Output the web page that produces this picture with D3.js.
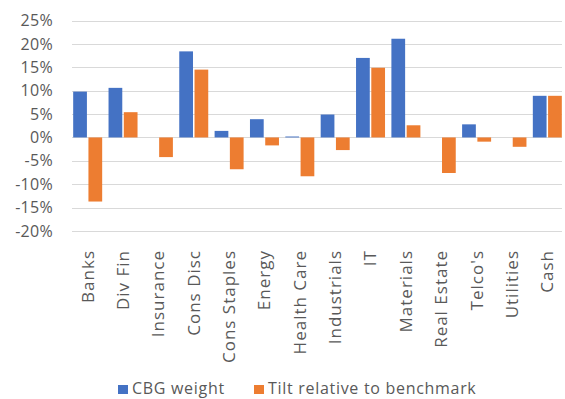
<!DOCTYPE html>
<html>
<head>
<meta charset="utf-8">
<script src="https://cdn.jsdelivr.net/npm/d3@7"></script>
<style>
  html, body { margin: 0; padding: 0; background: #fff; }
  svg { display: block; }
  text { font-family: "Open Sans", sans-serif; fill: #595959; }
</style>
</head>
<body>
<svg id="chart" width="565" height="399"></svg>
<script>
// Sector weights and tilts (in %)
const categories = ["Banks", "Div Fin", "Insurance", "Cons Disc", "Cons Staples", "Energy",
  "Health Care", "Industrials", "IT", "Materials", "Real Estate", "Telco's", "Utilities", "Cash"];
const cbgWeight = [9.8, 10.6, 0, 18.4, 1.4, 3.9, 0.2, 4.9, 17.0, 21.1, 0, 2.8, 0, 8.9];
const tilt = [-13.7, 5.4, -4.2, 14.5, -6.8, -1.7, -8.3, -2.7, 14.9, 2.6, -7.6, -0.9, -2.0, 8.9];
const seriesNames = ["CBG weight", "Tilt relative to benchmark"];
const yTicks = [-20, -15, -10, -5, 0, 5, 10, 15, 20, 25];

const colors = ["#4472C4", "#ED7D31"];
const svg = d3.select("#chart");
const plotLeft = 70, plotRight = 565, plotTop = 20.5, plotBottom = 231;

const x = d3.scaleBand().domain(categories).range([plotLeft, plotRight]).paddingInner(0.18).paddingOuter(0.09);
const y = d3.scaleLinear().domain([-20, 25]).range([plotBottom, plotTop]);
const xs = d3.scaleBand().domain([0, 1]).range([0, x.bandwidth()]).paddingInner(0.1);

// gridlines
svg.append("g").selectAll("line").data(yTicks).join("line")
  .attr("x1", 72).attr("x2", 562)
  .attr("y1", d => Math.round(y(d)) + 0.5).attr("y2", d => Math.round(y(d)) + 0.5)
  .attr("stroke", "#d9d9d9").attr("stroke-width", 1);

// y axis labels
const yAxis = d3.axisLeft(y).tickValues(yTicks).tickSize(0).tickPadding(0)
  .tickFormat(d => d + "%");
const gy = svg.append("g").attr("transform", "translate(53,0)").call(yAxis);
gy.select(".domain").remove();
gy.selectAll("text").attr("font-size", 16).attr("letter-spacing", 0.3)
  .attr("font-family", "Open Sans, sans-serif").attr("fill", "#595959");

// bars
const series = [cbgWeight, tilt];
series.forEach((vals, s) => {
  svg.append("g").selectAll("rect").data(vals).join("rect")
    .attr("x", (d, i) => x(categories[i]) + xs(s))
    .attr("width", xs.bandwidth())
    .attr("y", d => y(Math.max(0, d)))
    .attr("height", d => Math.abs(y(d) - y(0)))
    .attr("fill", colors[s]);
});

// category labels
const gx = svg.append("g").attr("transform", `translate(0,${plotBottom + 19})`)
  .call(d3.axisBottom(x).tickSize(0).tickPadding(0));
gx.select(".domain").remove();
gx.selectAll("text")
  .attr("font-size", 17).attr("letter-spacing", 1)
  .attr("font-family", "Open Sans, sans-serif").attr("fill", "#595959")
  .attr("transform", "rotate(-90)")
  .attr("text-anchor", "end").attr("x", 0).attr("y", 0).attr("dy", "0.35em");

// legend
const legend = svg.append("g").attr("transform", "translate(118,394)");
const items = [{ name: seriesNames[0], x: 0 }, { name: seriesNames[1], x: 136 }];
items.forEach((it, i) => {
  legend.append("rect").attr("x", it.x).attr("y", -9).attr("width", 10).attr("height", 9).attr("fill", colors[i]);
  legend.append("text").attr("x", it.x + 14).attr("y", 0)
    .attr("font-size", 16).attr("letter-spacing", 0.7).text(it.name);
});
</script>
</body>
</html>
